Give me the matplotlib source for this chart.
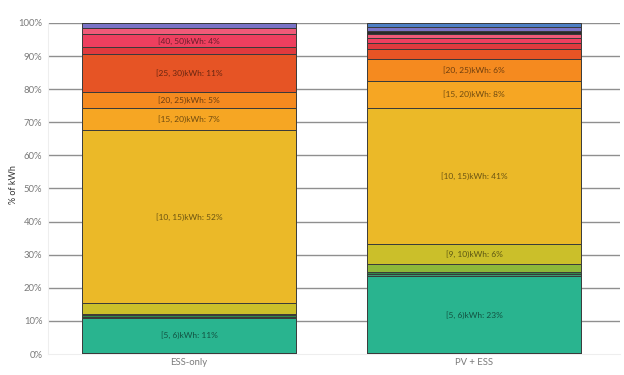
import matplotlib
matplotlib.use('Agg')
import numpy as np
import matplotlib.pyplot as plt

plt.rcParams['font.family'] = ['Lato', 'DejaVu Sans']

groups = ['ESS-only', 'PV + ESS']

# energy bins, bottom to top of each stack
bins = ['[0, 5)', '[5, 6)', '[6, 7)', '[7, 8)', '[8, 9)', '[9, 10)', '[10, 15)',
        '[15, 20)', '[20, 25)', '[25, 30)', '[30, 40)', '[40, 50)', '[50, 60)',
        '[60, 70)', '[70, 80)', '[80, 100)']
colors = ['#1f6650', '#29b48f', '#3a9a72', '#2f8a4a', '#8db83a', '#cbbf2a', '#ebb928',
          '#f6a623', '#f58a1f', '#e65425', '#e03a3e', '#ee3f5f', '#f05a78',
          '#2a2a2a', '#7a73c6', '#4d7fc4']

# percent of kWh per bin
ess_only = [0.3, 10.6, 0.4, 0.5, 0.4, 3.2, 52.2, 6.6, 5.1, 11.3, 2.0, 4.1, 1.8, 0.0, 1.5, 0.0]
pv_ess = [0.2, 23.4, 0.5, 0.7, 2.3, 6.0, 41.2, 8.2, 6.5, 3.0, 1.9, 1.7, 1.1, 0.8, 1.2, 1.4]

data = np.array([ess_only, pv_ess])

fig = plt.figure(figsize=(6.24, 3.75), dpi=100)
ax = fig.add_axes([48 / 624, 1 - 354 / 375, 572 / 624, 331 / 375])

x = np.arange(len(groups))
width = 0.751
bottom = np.zeros(len(groups))
for i, b in enumerate(bins):
    vals = data[:, i]
    ax.bar(x, vals, width, bottom=bottom, color=colors[i],
           edgecolor='#3a3a3a', linewidth=0.7, zorder=3)
    for j in range(len(groups)):
        if vals[j] >= 4:
            ax.text(x[j], bottom[j] + vals[j] / 2, f'{b}kWh: {round(vals[j]):.0f}%',
                    ha='center', va='center', fontsize=6, color='black',
                    alpha=0.55, zorder=4)
    bottom += vals

ax.set_xlim(-0.495, 1.512)
ax.set_ylim(0, 100)
ax.set_yticks(np.arange(0, 101, 10))
ax.set_yticklabels([f'{v}%' for v in range(0, 101, 10)])
ax.set_xticks(x)
ax.set_xticklabels(groups)
ax.tick_params(axis='both', length=0, labelsize=6.8, labelcolor='#7a7a7a')
ax.tick_params(axis='y', pad=4)
ax.tick_params(axis='x', pad=3)
for v in range(10, 101, 10):
    ax.axhline(v, color='#8f8f8f', linewidth=1.0, zorder=1)

for s in ['top', 'right']:
    ax.spines[s].set_visible(False)
ax.spines['left'].set_color('#eeeeee')
ax.spines['bottom'].set_color('#eeeeee')

fig.text(13 / 624, 1 - 185 / 375, '% of kWh', rotation=90, fontsize=6.5,
         color='#333333', ha='center', va='center')

fig.savefig('out.png', dpi=100)
